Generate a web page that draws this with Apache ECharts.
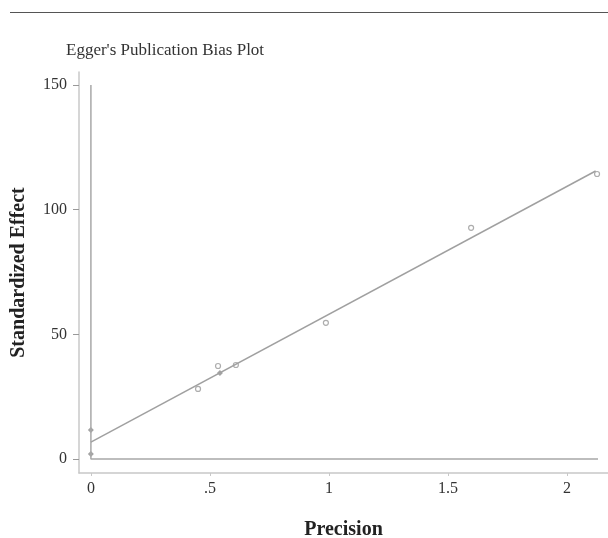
<!DOCTYPE html>
<html>
<head>
<meta charset="utf-8">
<script src="https://cdn.jsdelivr.net/npm/echarts@6/dist/echarts.min.js"></script>
<style>html,body{margin:0;padding:0;background:#fff}#c{width:608px;height:538px}</style>
</head>
<body>
<div id="c"></div>
<script>
// Studies drawn as filled markers (precision, standardized effect)
var filledPrecision = [0, 0, 0.542];
var filledEffect = [11.6, 2.0, 34.5];
// Studies drawn as hollow markers
var hollowPrecision = [0.45, 0.534, 0.609, 0.987, 1.597, 2.126];
var hollowEffect = [28.1, 37.3, 37.7, 54.6, 92.7, 114.3];
// Egger regression line endpoints
var fitPrecision = [0, 2.12];
var fitEffect = [6.8, 115.5];
// Reference lines (x = 0 and y = 0)
var refPrecision = [0, 0, 2.13];
var refEffect = [150, 0, 0];
// Tick values
var xTicks = [0, 0.5, 1, 1.5, 2];
var yTicks = [0, 50, 100, 150];

function zip(a, b) { return a.map(function (v, i) { return [v, b[i]]; }); }

var serif = 'Liberation Serif';
var chart = echarts.init(document.getElementById('c'), null, { renderer: 'canvas' });
chart.setOption({
  animation: false,
  backgroundColor: '#fff',
  title: {
    text: "Egger's Publication Bias Plot",
    left: 61, top: 37,
    textStyle: { fontFamily: serif, fontSize: 17, fontWeight: 'normal', color: '#333' }
  },
  graphic: [{
    type: 'line', shape: { x1: 10, y1: 12.5, x2: 608, y2: 12.5 },
    style: { stroke: '#555', lineWidth: 1 }
  }],
  grid: { left: 79, top: 72, width: 529, height: 401, containLabel: false, outerBoundsMode: 'none' },
  xAxis: {
    type: 'value', min: -0.05, max: 2.172,
    name: 'Precision', nameLocation: 'middle', nameGap: 47,
    nameTextStyle: { fontFamily: serif, fontSize: 20, fontWeight: 'bold', color: '#222' },
    axisLine: { show: true, onZero: false, lineStyle: { color: '#c8c8c8', width: 1.5 } },
    axisTick: { show: true, length: 3, customValues: xTicks, lineStyle: { color: '#c8c8c8' } },
    axisLabel: {
      customValues: xTicks, margin: 8,
      fontFamily: serif, fontSize: 16, color: '#333',
      formatter: function (v) { return v === 0 ? '0' : (v < 1 ? String(v).replace(/^0/, '') : String(v)); }
    },
    splitLine: { show: false }
  },
  yAxis: {
    type: 'value', min: -5.6, max: 155.2,
    name: 'Standardized Effect', nameLocation: 'middle', nameGap: 50,
    nameTextStyle: { fontFamily: serif, fontSize: 20, fontWeight: 'bold', color: '#222' },
    axisLine: { show: true, onZero: false, lineStyle: { color: '#c8c8c8', width: 1.5 } },
    axisTick: { show: true, length: 6, customValues: yTicks, lineStyle: { color: '#999' } },
    axisLabel: { customValues: yTicks, margin: 12, fontFamily: serif, fontSize: 16, color: '#333' },
    splitLine: { show: false }
  },
  series: [
    {
      type: 'line', data: zip(refPrecision, refEffect), symbol: 'none',
      lineStyle: { color: '#a8a8a8', width: 1.5 }, silent: true
    },
    {
      type: 'line', data: zip(fitPrecision, fitEffect), symbol: 'none',
      lineStyle: { color: '#a0a0a0', width: 1.5 }, silent: true
    },
    {
      type: 'scatter', data: zip(filledPrecision, filledEffect),
      symbol: 'diamond', symbolSize: 6,
      itemStyle: { color: '#8c8c8c' }
    },
    {
      type: 'scatter', data: zip(hollowPrecision, hollowEffect),
      symbol: 'circle', symbolSize: 5,
      itemStyle: { color: '#fff', borderColor: '#999', borderWidth: 1.2 }
    }
  ]
});
</script>
</body>
</html>
